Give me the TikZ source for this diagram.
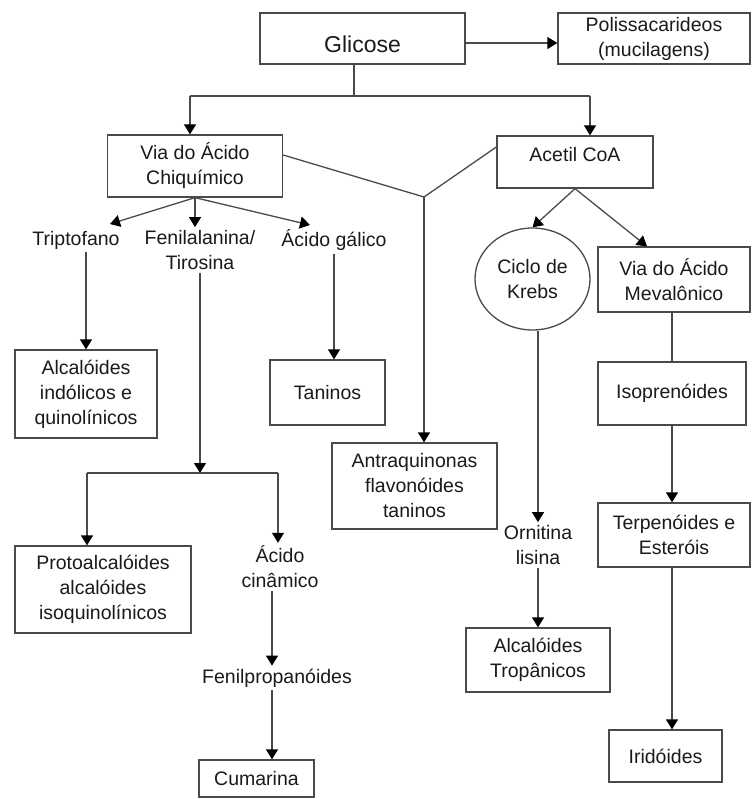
\documentclass[tikz,border=0pt]{standalone}
\usepackage{fontspec}
\setmainfont{Liberation Sans}
\usetikzlibrary{arrows.meta,shapes.geometric,calc}
\definecolor{ink}{HTML}{1A1A1A}
\definecolor{edge}{HTML}{4A4A4A}

\begin{document}
\begin{tikzpicture}[x=1pt,y=-1pt,
  every node/.style={font=\fontsize{19.5}{25}\selectfont, text=ink, align=center, inner sep=0pt},
  box/.style={draw=edge, line width=1.3pt, rectangle},
  lbl/.style={inner sep=3pt},
  link/.style={draw=edge, line width=1.3pt},
  arr/.style={link, -{Triangle[width=12pt,length=10pt,color=black]}}]

% canvas
\fill[white] (0,0) rectangle (753,799);
\useasboundingbox (0,0) rectangle (753,799);

% top row
\node[box, minimum width=205, minimum height=51, text height=29pt, text depth=0pt,
      font=\fontsize{23}{27}\selectfont] (glic) at (362.5,38.5) {Glicose};
\node[box, minimum width=192, minimum height=51] (polis) at (654,38.5) {Polissacarideos\\(mucilagens)};

% second row
\node[box, minimum width=175, minimum height=62] (chiq) at (195,166) {Via do Ácido\\Chiquímico};
\node[box, minimum width=156, minimum height=52, text height=12pt, text depth=12pt] (acetil) at (575,162) {Acetil CoA};

% shikimate branch
\node[lbl] (trip) at (76,240) {Triptofano};
\node[lbl] (fen) at (200,250) {Fenilalanina/\\Tirosina};
\node[lbl] (gal) at (334,240) {Ácido gálico};
\node[box, minimum width=142, minimum height=88] (alcind) at (86,394) {Alcalóides\\indólicos e\\quinolínicos};
\node[box, minimum width=115, minimum height=65] (tan) at (327.5,392.5) {Taninos};
\node[box, minimum width=165, minimum height=86] (antra) at (414.5,486) {Antraquinonas\\flavonóides\\taninos};
\node[box, minimum width=176, minimum height=87] (proto) at (103,589.5) {Protoalcalóides\\alcalóides\\isoquinolínicos};
\node[lbl] (cin) at (280,567) {Ácido\\cinâmico};
\node[lbl] (fenp) at (277,678) {Fenilpropanóides};
\node[box, minimum width=115, minimum height=37] (cum) at (256.5,778.5) {Cumarina};

% acetyl-CoA branch
\node[draw=edge, line width=1.3pt, ellipse, minimum width=115, minimum height=102] (krebs) at (532.5,279) {Ciclo de\\Krebs};
\node[box, minimum width=152, minimum height=65] (mev) at (674,279.5) {Via do Ácido\\Mevalônico};
\node[box, minimum width=148, minimum height=63] (iso) at (672,393.5) {Isoprenóides};
\node[box, minimum width=152, minimum height=64] (terp) at (674,535) {Terpenóides e\\Esteróis};
\node[box, minimum width=113, minimum height=52] (irid) at (665.5,756) {Iridóides};
\node[lbl] (orn) at (538,545) {Ornitina\\lisina};
\node[box, minimum width=144, minimum height=64] (trop) at (538,660) {Alcalóides\\Tropânicos};

% glucose split
\coordinate (gs) at (354,96);
\coordinate (gl) at (190,96);
\coordinate (gr) at (590,96);
\coordinate (py) at (0,43);
\draw[link] (glic.south -| gs) -- (gs);
\draw[link] (gl) -- (gr);
\draw[arr] (gl) -- (gl |- chiq.north);
\draw[arr] (gr) -- (gr |- acetil.north);
\draw[arr] (glic.east |- py) -- (polis.west |- py);

% joint route to anthraquinones
\coordinate (j) at (424,197);
\draw[link] ($(chiq.east)+(0,-11)$) -- (j);
\draw[link] ($(acetil.west)+(0,-15)$) -- (j);
\draw[arr] (j) -- (j |- antra.north);

% shikimate products
\coordinate (tT) at (110,224);
\coordinate (tG) at (310,225);
\draw[arr] (chiq.south) -- (tT);
\draw[arr] (chiq.south) -- (chiq.south |- fen.north);
\draw[arr] (chiq.south) -- (tG);
\draw[arr] (alcind.north |- trip.south) -- (alcind.north);
\draw[arr] (gal.south) -- (gal.south |- tan.north);

% phenylalanine split
\coordinate (fj) at (200,473);
\coordinate (fjl) at (87,473);
\coordinate (fjr) at (278,473);
\draw[arr] (fen.south) -- (fj);
\draw[link] (fjl) -- (fjr);
\draw[arr] (fjl) -- (fjl |- proto.north);
\draw[arr] (fjr) -- (fjr |- cin.north);
\coordinate (cx) at (272,0);
\draw[arr] (cin.south -| cx) -- (cx |- fenp.north);
\draw[arr] (fenp.south -| cx) -- (cx |- cum.north);

% acetyl-CoA products
\draw[arr] (acetil.south) -- (krebs.north);
\draw[arr] (acetil.south) -- ($(mev.north)+(-27,0)$);
\coordinate (mx) at (672,0);
\draw[link] (mev.south -| mx) -- (mx |- iso.north);
\draw[arr] (iso.south -| mx) -- (mx |- terp.north);
\draw[arr] (terp.south -| mx) -- (mx |- irid.north);
\coordinate (kx) at (538,0);
\draw[arr] (krebs.south -| kx) -- (kx |- orn.north);
\draw[arr] (orn.south -| kx) -- (kx |- trop.north);
\end{tikzpicture}
\end{document}
